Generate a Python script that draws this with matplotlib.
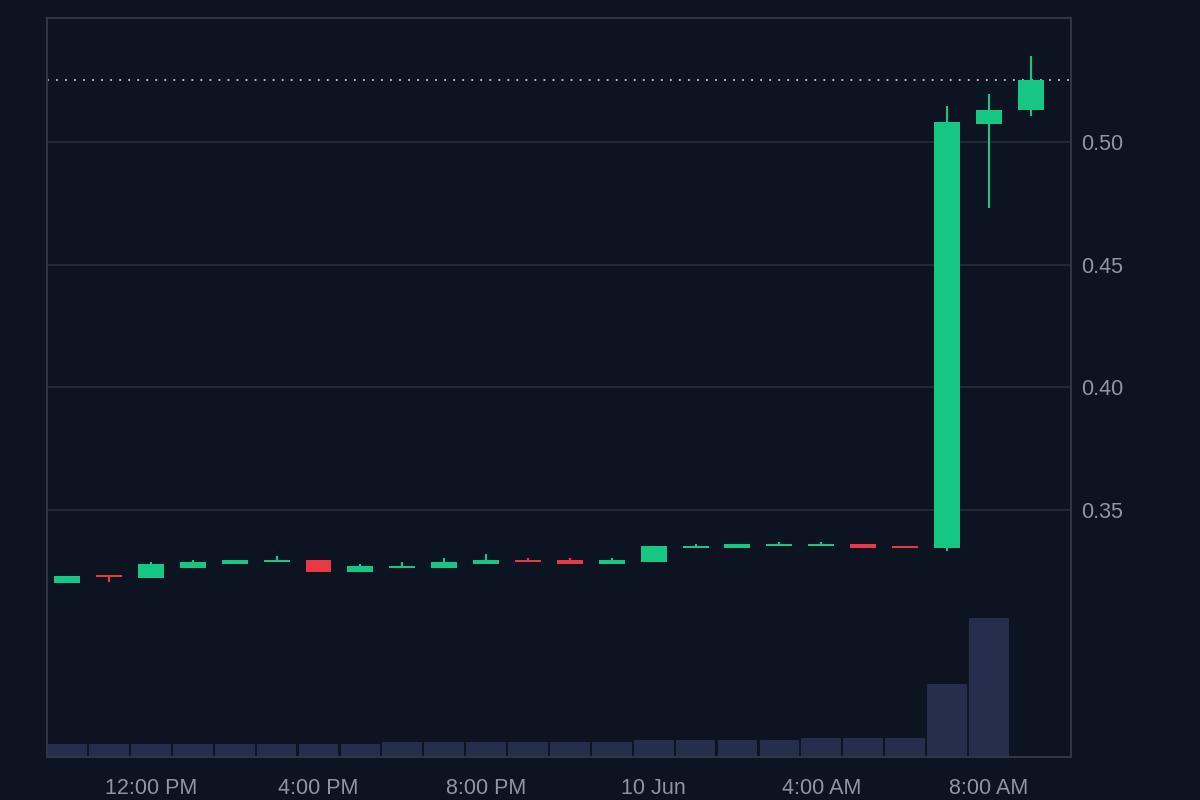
import matplotlib.pyplot as plt
import numpy as np

# hourly candles, 9 Jun 10:00 AM -> 10 Jun 9:00 AM
opens = [0.3202, 0.3229, 0.3224, 0.3265, 0.3281, 0.3289, 0.3296, 0.3247,
         0.3265, 0.3265, 0.3281, 0.3296, 0.3296, 0.3281, 0.3288, 0.3345,
         0.3345, 0.3353, 0.3353, 0.3361, 0.3353, 0.3345, 0.5074, 0.5131]
highs = [0.3231, 0.3230, 0.3287, 0.3296, 0.3296, 0.3312, 0.3296, 0.3280,
         0.3288, 0.3304, 0.3321, 0.3304, 0.3304, 0.3304, 0.3353, 0.3361,
         0.3361, 0.3369, 0.3369, 0.3361, 0.3353, 0.5147, 0.5196, 0.5351]
lows = [0.3202, 0.3208, 0.3224, 0.3265, 0.3281, 0.3289, 0.3247, 0.3247,
        0.3265, 0.3265, 0.3281, 0.3288, 0.3281, 0.3281, 0.3288, 0.3345,
        0.3345, 0.3353, 0.3353, 0.3345, 0.3345, 0.3333, 0.4732, 0.5106]
closes = [0.3231, 0.3227, 0.3280, 0.3288, 0.3296, 0.3296, 0.3247, 0.3272,
          0.3272, 0.3288, 0.3296, 0.3288, 0.3281, 0.3296, 0.3353, 0.3353,
          0.3361, 0.3361, 0.3361, 0.3345, 0.3345, 0.5082, 0.5131, 0.5253]
volumes = [12, 12, 12, 12, 12, 12, 12, 12, 14, 14, 14, 14, 14, 14,
           16, 16, 16, 16, 18, 18, 18, 72, 138, 0]

price_ticks = [0.35, 0.40, 0.45, 0.50]
time_tick_idx = [2, 6, 10, 14, 18, 22]
time_tick_labels = ["12:00 PM", "4:00 PM", "8:00 PM", "10 Jun", "4:00 AM", "8:00 AM"]

bg = "#0d1421"
up = "#16c784"
down = "#ea3943"
grid_c = "#252b38"
text_c = "#8e95a5"

plt.rcParams['font.family'] = ['Liberation Sans', 'DejaVu Sans']

fig = plt.figure(figsize=(12, 8), dpi=100)
fig.patch.set_facecolor(bg)
ax = fig.add_axes([47 / 1200, 43 / 800, 1024 / 1200, 739 / 800])
ax.set_facecolor(bg)

x = np.arange(len(opens))

# volume on its own hidden axis
vax = ax.twinx()
vax.set_ylim(0, max(volumes) * 739 / 138)
vax.bar(x, volumes, width=0.9, color="#252f4d", edgecolor="#252f4d",
        linewidth=1.5, joinstyle="round", zorder=1)
vax.set_yticks([])
for s in vax.spines.values():
    s.set_visible(False)

ax.set_zorder(vax.get_zorder() + 1)
ax.patch.set_visible(False)
vax.patch.set_facecolor(bg)

o = np.array(opens)
c = np.array(closes)
colors = [up if cc >= oo else down for oo, cc in zip(o, c)]
ax.vlines(x, lows, highs, colors=colors, linewidth=1.5, zorder=3)
body_h = np.maximum(np.abs(c - o), 0.0006)
ax.bar(x, body_h, bottom=np.minimum(o, c), width=0.62, color=colors, zorder=4)

ax.axhline(closes[-1], color="#c8ccd4", linestyle=(0, (1, 4)), linewidth=1.3, zorder=2)

ax.set_ylim(0.2493, 0.5506)
ax.set_xlim(-0.48, 23.96)
ax.yaxis.tick_right()
ax.set_yticks(price_ticks)
ax.set_yticklabels([f"{p:.2f}" for p in price_ticks])
ax.set_xticks(time_tick_idx)
ax.set_xticklabels(time_tick_labels)
ax.tick_params(colors=text_c, labelsize=15.5, length=0)
ax.tick_params(axis='y', pad=7)
ax.tick_params(axis='x', pad=15)
ax.grid(axis='y', color=grid_c, linewidth=1.3)
ax.set_axisbelow(True)
for s in ax.spines.values():
    s.set_color("#30363f")
    s.set_linewidth(1.5)

fig.savefig("out.png", dpi=100, facecolor=bg)
